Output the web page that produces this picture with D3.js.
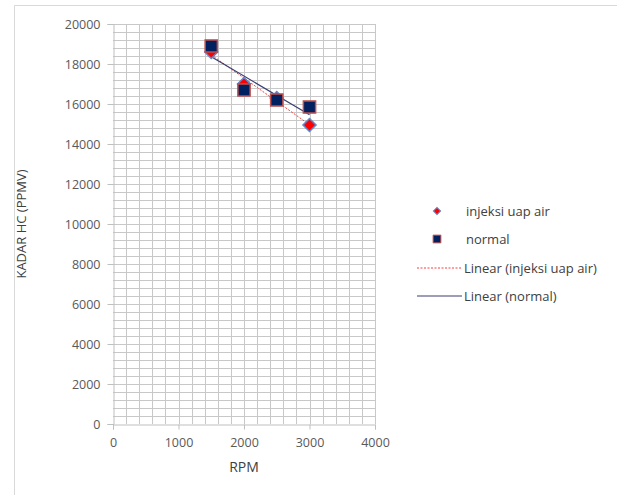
<!DOCTYPE html>
<html><head><meta charset="utf-8">
<script src="https://cdn.jsdelivr.net/npm/d3@7"></script>
<style>body{margin:0;background:#fff}svg{display:block}text{font-family:"Open Sans","Liberation Sans",sans-serif}</style>
</head><body><svg id="c" width="617" height="495"></svg>
<script>
const rpm = [1500, 2000, 2500, 3000];
const injeksi = [18600, 17000, 16300, 14950];
const normal = [18900, 16700, 16200, 15850];
const xTicks = [0, 1000, 2000, 3000, 4000];
const yTicks = [0, 2000, 4000, 6000, 8000, 10000, 12000, 14000, 16000, 18000, 20000];
const legendLabels = ["injeksi uap air", "normal", "Linear (injeksi uap air)", "Linear (normal)"];

const svg = d3.select("#c");
const x = d3.scaleLinear().domain([0, 4000]).range([113, 375]);
const y = d3.scaleLinear().domain([0, 20000]).range([424, 24]);

// chart border
svg.append("path").attr("d", "M14.5,495 V5.5 H617").attr("fill", "none").attr("stroke", "#d9d9d9").attr("stroke-width", 1);

// gridlines
const g = svg.append("g");
d3.range(200, 4001, 200).forEach(v => {
  g.append("line").attr("x1", Math.round(x(v))+0.5).attr("x2", Math.round(x(v))+0.5).attr("y1", y(0)).attr("y2", y(20000))
    .attr("stroke", "#c8c8c8").attr("stroke-width", 1);
});
d3.range(400, 20001, 400).forEach(v => {
  g.append("line").attr("y1", Math.round(y(v))+0.5).attr("y2", Math.round(y(v))+0.5).attr("x1", x(0)).attr("x2", x(4000))
    .attr("stroke", "#c8c8c8").attr("stroke-width", 1);
});

// axes
const yAxis = svg.append("g").attr("transform", `translate(${x(0)+0.5},0)`)
  .call(d3.axisLeft(y).tickValues(yTicks).tickSize(6).tickPadding(7).tickFormat(d3.format("d")));
const xAxis = svg.append("g").attr("transform", `translate(0,${y(0)+0.5})`)
  .call(d3.axisBottom(x).tickValues(xTicks).tickSize(5).tickPadding(9).tickFormat(d3.format("d")));
[yAxis, xAxis].forEach(a => {
  a.select(".domain").attr("stroke", "#bfbfbf");
  a.selectAll(".tick line").attr("stroke", "#bfbfbf");
  a.selectAll(".tick text").attr("fill", "#595959").attr("font-size", 12.5);
});

// axis titles
svg.append("text").attr("x", 244).attr("y", 472).attr("text-anchor", "middle")
  .attr("fill", "#404040").attr("font-size", 14).text("RPM");
svg.append("text").attr("transform", "translate(26,224) rotate(-90)").attr("text-anchor", "middle")
  .attr("fill", "#404040").attr("font-size", 13).text("KADAR HC (PPMV)");

// trend lines (least squares)
function fit(xs, ys) {
  const mx = d3.mean(xs), my = d3.mean(ys);
  const b = d3.sum(xs.map((v, i) => (v - mx) * (ys[i] - my))) / d3.sum(xs.map(v => (v - mx) ** 2));
  return v => my + b * (v - mx);
}
const fi = fit(rpm, injeksi), fn = fit(rpm, normal);
const x0 = d3.min(rpm), x1 = d3.max(rpm);
svg.append("line").attr("x1", x(x0)).attr("y1", y(fi(x0))).attr("x2", x(x1)).attr("y2", y(fi(x1)))
  .attr("stroke", "#ff3b3b").attr("stroke-width", 1).attr("stroke-dasharray", "2,1.5");
svg.append("line").attr("x1", x(x0)).attr("y1", y(fn(x0))).attr("x2", x(x1)).attr("y2", y(fn(x1)))
  .attr("stroke", "#3a3f74").attr("stroke-width", 1.2);

// markers
svg.append("g").selectAll("path").data(rpm).join("path")
  .attr("d", d3.symbol().type(d3.symbolSquare).size(85)())
  .attr("transform", (d, i) => `translate(${x(d)},${y(injeksi[i])}) rotate(45)`)
  .attr("fill", "#ff0000").attr("stroke", "#5b8bd0").attr("stroke-width", 1.5);
svg.append("g").selectAll("path").data(rpm).join("path")
  .attr("transform", (d, i) => `translate(${x(d)},${y(normal[i])})`)
  .attr("d", d3.symbol().type(d3.symbolSquare).size(150)())
  .attr("fill", "#002060").attr("stroke", "#c0504d").attr("stroke-width", 1.5);

// legend
const lg = svg.append("g");
const ly = [211, 239, 268, 296];
lg.append("path").attr("d", d3.symbol().type(d3.symbolSquare).size(26)())
  .attr("transform", `translate(437,${ly[0]}) rotate(45)`).attr("fill", "#ff0000").attr("stroke", "#5b8bd0").attr("stroke-width", 1);
lg.append("path").attr("d", d3.symbol().type(d3.symbolSquare).size(60)())
  .attr("transform", `translate(437,${ly[1]})`).attr("fill", "#002060").attr("stroke", "#c0504d").attr("stroke-width", 1);
lg.append("line").attr("x1", 417).attr("x2", 462).attr("y1", ly[2]).attr("y2", ly[2])
  .attr("stroke", "#ff3b3b").attr("stroke-width", 1).attr("stroke-dasharray", "2,1.5");
lg.append("line").attr("x1", 417).attr("x2", 462).attr("y1", ly[3]).attr("y2", ly[3])
  .attr("stroke", "#3a3f74").attr("stroke-width", 1.2);
lg.selectAll("text").data(legendLabels).join("text")
  .attr("x", (d, i) => i < 2 ? 466 : 464).attr("y", (d, i) => ly[i] + 4.5)
  .attr("fill", "#404040").attr("font-size", 13).text(d => d);
</script></body></html>
